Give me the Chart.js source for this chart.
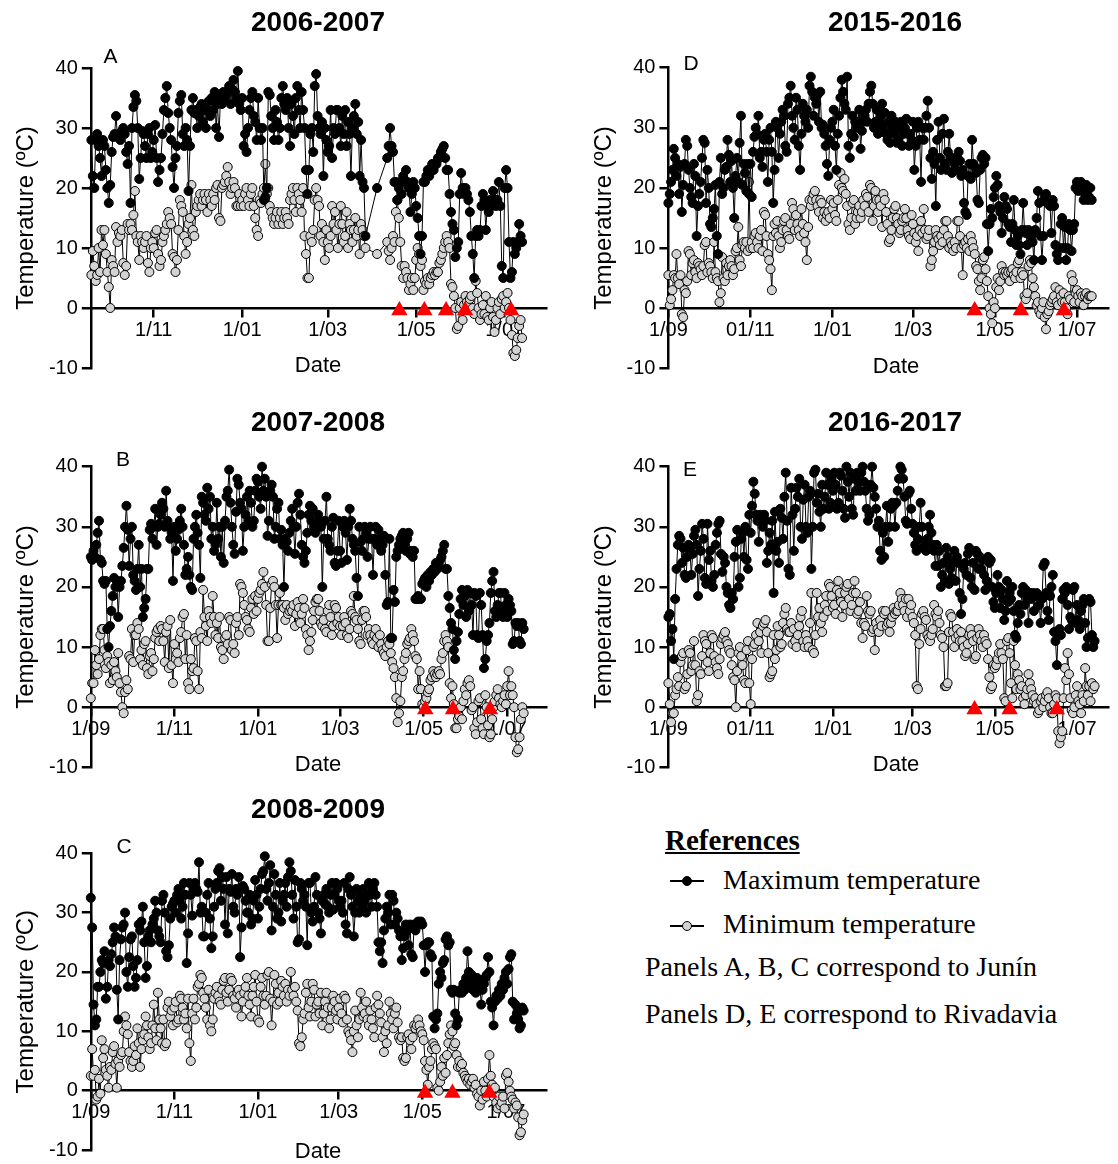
<!DOCTYPE html>
<html>
<head>
<meta charset="utf-8">
<script src="https://cdn.jsdelivr.net/npm/chart.js@4.4.1/dist/chart.umd.min.js"></script>
<style>
  body { margin: 0; background: #fff; width: 1118px; height: 1164px; position: relative; overflow: hidden; }
  canvas { position: absolute; }
  .leg { position: absolute; font-family: 'Liberation Serif', 'Times New Roman', serif; font-size: 28px; line-height: 28px; color: #000; white-space: nowrap; }
  .sym { position: absolute; width: 34px; height: 1.5px; background: #000; }
  .sym i { position: absolute; left: 12px; top: -4px; width: 8px; height: 8px; border-radius: 50%; border: 1px solid #000; }
</style>
</head>
<body>
<canvas id="cA" width="560" height="395" style="left:0;top:0"></canvas>
<canvas id="cB" width="560" height="390" style="left:0;top:395px"></canvas>
<canvas id="cC" width="560" height="379" style="left:0;top:785px"></canvas>
<canvas id="cD" width="558" height="395" style="left:560px;top:0"></canvas>
<canvas id="cE" width="558" height="390" style="left:560px;top:395px"></canvas>

<div class="leg" style="left:665px;top:826px;font-weight:bold;font-size:29px;text-decoration:underline">References</div>
<div class="sym" style="left:670px;top:880px"><i style="background:#000"></i></div>
<div class="leg" style="left:723px;top:866px">Maximum temperature</div>
<div class="sym" style="left:670px;top:925px"><i style="background:#d3d3d3"></i></div>
<div class="leg" style="left:723px;top:910px">Minimum temperature</div>
<div class="leg" style="left:645px;top:953px">Panels A, B, C correspond to Junín</div>
<div class="leg" style="left:645px;top:1000px">Panels D, E correspond to Rivadavia</div>

<script>
// day 0 = 1 September of the first year of each season
const yTicks = [-10, 0, 10, 20, 30, 40];

// ---- A: 2006-2007 (Junín) ----
const startA = 18;
const maxA = [
  28, 22, 20, 28, 29, 27, 25, 22, 28, 27,
  23, 20, 17.5, 20.5, 26, 28.5, 29, 32, 28.5, 29,
  28, 29.5, 30, 29, 26, 24, 27, 17.5, 30, 33.5,
  35.5, 34.5, 30, 21.5, 25, 29.5, 29, 27, 25, 29,
  30, 25, 26, 28, 30.5, 25, 21, 23, 25, 29,
  33, 35, 37, 32.5, 30, 28, 23.5, 20, 25, 27,
  32.5, 34.5, 35.5, 29, 27, 30, 28, 19.5, 27, 33,
  35, 32.5, 33, 30, 32, 33.5, 34, 31, 33, 30,
  33, 34.5, 32, 35, 33, 36, 30, 34, 28.5, 35,
  34, 36, 35, 35.5, 36, 37, 34, 36.5, 38, 36,
  35, 39.5, 34, 33, 35, 27, 29, 26, 30, 33,
  35, 36, 32, 31, 28, 35, 30, 28, 30, 18,
  18.5, 20, 36, 35.5, 32, 30, 28, 33, 31, 28,
  30, 35, 37, 34, 33, 35, 30, 27, 34, 32,
  29, 35, 37, 33, 30, 36, 33, 30, 23, 19,
  23, 29, 30, 26, 37, 39, 32, 30, 29, 31,
  22, 30, 28, 26, 27, 33, 25, 30, 29, 33,
  33, 30, 27, 32, 29, 33, 27, 31, 29, 22,
  30, 32, 34, 29, 31, 22, 28, 21, 20, 12,
  null, null, null, null, null, null, null, 20, null, null,
  null, null, null, null, 25, 27, 30, 27, 26, 21,
  21, 18, 20, 21, 19, 22, 21, 23, 21, 20,
  16, 19, 21, 20, 17, 15, 12, 9, 12, 21,
  21, 22, 23, 22, 23, 24, 23, 24, 24, 25,
  25, 26, 26.5, 27, 25, 23, 23, 19, 16, 14,
  13, 8.5, 10, 11, 19, 22.5, 20, 19, 20, 19,
  18, 16, 12, 9, 5, 12, 13, 12, 13, 17,
  19, 18, 13, 17, 16, 18, 17, 19.5, 18, 17,
  18, 21, 17, 7, 5, 20, 23, 20, 11, 5,
  6, 11, 9, 10, 11, 14, 12, 11
];
const minA = [
  5.5, 9.5, 7, 4.5, 5.5, 10, 6, 13, 10.5, 13,
  9, 6, 3.5, 0, 8, 7, 6, 13.5, 11, 12.5,
  12, 13, 7.5, 5.5, 7, 14, 13, 14, 13, 15.5,
  19.5, 12, 11, 8, 12, 11, 10, 11, 12, 7.5,
  6, 10, 11, 10, 12.5, 13, 9, 7, 8, 11,
  12, 13, 14, 16, 15, 14, 9, 8.5, 6, 8,
  13, 18, 17, 16, 12, 9, 11, 14, 15, 20.5,
  13, 12, 16, 17, 18, 19, 17, 18, 19, 18,
  16, 19, 18, 17, 19, 18, 20, 20.5, 15, 14.5,
  20, 20.5, 21, 22, 23.5, 21, 19, 20, 21, 20,
  17, 17, 19, 17, 18, 17, 19, 20, 18, 17,
  19, 20, 17, 15, 13, 12, 18, 17.5, 19, 20,
  24, 19, 20, 17, 16, 15, 14, 15, 16, 14,
  15, 16, 14, 15, 16, 15, 14, 18, 19, 20,
  18, 16, 20, 19, 18, 16, 20, 12, 9, 5,
  5, 12, 11, 13, 18, 20, 18, 17, 12, 14,
  11, 8, 13, 11, 10, 12, 17, 14, 16, 13,
  10, 14, 17, 14, 11, 12, 16, 10, 14, 13,
  11, 13, 15, 12, 13, 9, 14, 13, 12, 10,
  null, null, null, null, null, null, null, 9, null, null,
  null, null, null, null, 11, 9.5, 8, 10, 12, 11,
  16, 18, 15, 11, 7, 5, 7, 6, 5, 3,
  4, 5, 3, 5, 8, 10, 9, 7, 8, 3,
  4.5, 4, 5, 4, 5, 5.5, 6, 5.5, 6, 6,
  7.5, 8, 9, 10, 11, 12, 11, 10, 4, 3.5,
  2, 0, -3.5, -3, 0, 1, -2, 0.5, 2, 1,
  0.5, 1.5, 2, 0, -1, 4.5, 2.5, 0, -2, -1,
  0.5, -1, 2, -1.5, -2, 0, 1, -1.5, -4, -2,
  0, 1, -1, 1.5, 2, 0, 1, 2.5, 0, -2,
  -4.5, -7.5, -8, -7, -5, -3, -2, -5
];
const frostA = [230.4, 247.6, 262.6, 275.7, 307.4];
const tickDaysA = [61, 122, 181, 242, 303];
const tickLabelsA = ["1/11", "1/01", "1/03", "1/05", "1/07"];

// ---- B: 2007-2008 (Junín) ----
const startB = 0;
const maxB = [
  25, 24.5, 26, 25, 27, 29, 31, 24.5, 24, 21,
  20.5, 21, 13, 10, 13.5, 16, 18.5, 21.5, 20, 21,
  15, 20, 21, 23.5, 26.5, 30, 33.5, 29.5, 23.5, 28,
  30, 22, 21, 19.5, 23, 27, 20, 23, 15, 16.5,
  18, 23, 23, 29.5, 30.5, 28, 30, 33, 27, 30,
  30.5, 32, 34, 33, 30, 36, 31, 30, 28, 29,
  21, 30, 26, 28, 29.5, 31, 33, 30, 27, 22,
  23, 25, 22, 20, 19.5, 28, 30, 32, 29, 27,
  21.5, 35, 34, 32, 31, 36.5, 33, 35, 28, 30,
  26, 27, 34, 28, 30, 25, 30, 24, 31, 35,
  36, 39.5, 34, 30, 27, 25.5, 32.5, 38, 37, 34,
  33, 26, 30, 32, 35, 31, 36, 34, 30, 31,
  36, 38, 37.5, 35, 33, 40, 36, 38, 35, 28.5,
  31, 36, 37, 35, 28, 30, 33, 34, 28, 29.5,
  27, 20, 28, 27.5, 26, 29, 31, 33, 30, 25.5,
  30, 34, 35.5, 32, 27, 25, 24, 26, 29, 32,
  33.5, 31, 33, 30, 29, 30, 32, 31, 30, 20,
  28, 31, 35, 28, 27, 26, 30, 31.5, 24, 23.5,
  26, 31, 26, 24, 30, 31, 29, 24.5, 30, 33,
  31, 28, 27, 26, 21.5, 18.5, 30, 27.5, 26, 28,
  30, 29, 25, 28, 30, 28, 22, 28, 30, 27,
  29.5, 28, 26, 27, 28.5, 22, 17, 17.5, 28, 11.5,
  11.5, 19.5, 17.5, 25, 26, 27, 28, 28.5, 29, 27,
  26, 28, 29, 25.5, 26, 25, 26, 18, 18, 18.5,
  18, 18, 20.5, 21, 21.5, 20, 22, 21, 22.5, 22,
  23, 22.5, 24, 23, 24, 24.5, 25, 26, 27, 23,
  23, 18.5, 16.5, 14, 13, 9.5, 8, 11, 12.5, 15.5,
  18, 19.5, 17, 18.5, 15, 19.5, 16, 19, 17, 12,
  19, 18.5, 12, 11.5, 19, 17, 12, 6.5, 8, 11,
  12, 14, 19, 21, 22.5, 16, 15, 17, 19, 19,
  16, 15, 19, 17, 15, 18, 17, 16, 10.5, 11,
  14, 13.5, 14, 11, 10.5, 14, 13
];
const minB = [
  1.5, 4, 4, 9.5, 7, 5.5, 8, 12, 13, 13,
  9.5, 6.5, 8.5, 7.5, 4, 7, 4.5, 7.5, 6, 5,
  9, 4, 2.5, 0, -1, 2.5, 4.5, 3, 8.5, 8,
  13, 7.5, 12, 12, 14, 13, 8, 9.5, 7, 10.5,
  11, 6.5, 5.5, 8.5, 9, 6, 8, 11.5, 12.5, 13,
  11, 13.5, 13, 11, 7.5, 12.5, 13.5, 6.5, 14.5, 7,
  4, 10.5, 8, 9, 7.5, 11.5, 12.5, 15, 15.5, 8,
  12, 4, 3, 8, 6, 6.5, 11.5, 11, 6, 3,
  12.5, 11.5, 19.5, 15, 13.5, 11, 16, 15, 14, 18.5,
  15, 12, 14, 11.5, 15, 10, 9.5, 8, 11.5, 12,
  10.5, 15, 14.5, 9.5, 10.5, 9, 14, 15, 12, 20.5,
  20, 19, 17, 15, 14.5, 13, 12.5, 16.5, 18, 15.5,
  18.5, 16, 18, 19, 19.5, 20.5, 22.5, 20, 17, 11,
  11, 16.5, 20.5, 21, 20, 17, 11.5, 17, 19, 17,
  17, 16.5, 14.5, 17, 15.5, 16, 16.5, 16, 17, 13.5,
  15.5, 17.5, 16.5, 14, 15.5, 18, 16.5, 13, 12, 9.5,
  11, 12.5, 14.5, 16, 17.5, 18, 18, 16, 14, 13.5,
  14.5, 13, 12.5, 16, 17, 15, 12, 13.5, 17, 16.5,
  14, 15, 13.5, 12, 13.5, 15, 14, 12, 11.5, 13,
  16, 15.5, 18.5, 15, 14.5, 13, 11, 10.5, 14.5, 16,
  16, 15, 12, 13, 12, 11, 10.5, 12, 13, 11.5,
  10, 12, 10.5, 9.5, 9, 8.5, 10, 11, 10.5, 9,
  7.5, 6.5, 5, 1.5, -2.5, -1, 1, 5, 6, 8,
  9, 10.5, 11, 11.5, 13, 12, 11, 8.5, 8, 3,
  6, 3, 0.5, 0, 1, 1.5, 2.5, 3, 4.5, 5,
  6, 5.5, 5, 5.5, 6, 5.5, 8, 9, 11, 12,
  11, 10, 4, 1.5, 3.5, 0.5, -3.5, -3.5, -2, -1.5,
  0, -2, 1, 3, 2, 4, 4.5, 3.5, -0.5, 0,
  -3.5, -4.5, -2.5, 1, 1.5, -2, -3.5, -4.5, 2, 0,
  -3, -5, -4.5, -2, 0, 1, 2, 3, 1.5, 0.5,
  0, 1, 2, 0.5, 3.5, 6, 2, 3.5, 2, 0,
  -5, -7.5, -7, -5, -2, 0, -1
];
const frostB = [244.2, 264.4, 291.4];
const tickDaysB = [0, 61, 122, 182, 243, 304];
const tickLabelsB = ["1/09", "1/11", "1/01", "1/03", "1/05", "1/07"];

// ---- C: 2008-2009 (Junín) ----
const startC = 0;
const maxC = [
  32.5, 27.5, 14.5, 11, 12, 17.5, 17.5, 20, 22, 21.5,
  23.5, 15.5, 17.5, 22, 21, 23, 25, 27.5, 26, 17,
  12, 22, 25.5, 27.5, 28, 30, 20, 17.5, 22.5, 25.5,
  26, 21, 17.5, 19, 22, 28, 27, 28.5, 31, 25,
  19, 21, 26, 27, 25, 28, 29, 32, 30, 27,
  26, 25, 32, 33, 30, 23.5, 22.5, 24.5, 29, 31,
  31.5, 32, 30, 33, 34, 32, 29, 31, 35, 33,
  21.5, 26.5, 35, 33, 29.5, 34, 35, 34, 33.5, 38.5,
  30, 31, 26, 26, 30, 33, 35, 29, 24, 26,
  31, 34, 35, 37, 37.5, 32, 36, 34, 28, 36,
  26.5, 34, 33.5, 36.5, 31, 30, 34, 33, 36, 22.5,
  27.5, 34.5, 34, 32, 30, 30, 33, 28, 29, 32,
  35.5, 33, 29, 31, 34, 36.5, 37, 39.5, 34, 32,
  35, 38, 27, 31, 36.5, 33, 29, 30, 35, 28.5,
  32, 33, 35, 31, 36, 38.5, 37, 33, 29, 35.5,
  31, 25, 25.5, 35, 34, 32, 33, 31, 24.5, 35,
  35, 30, 28.5, 31, 36, 33, 30, 29, 26.5, 32,
  33, 31.5, 34, 31, 30, 33, 35, 30.5, 33, 35,
  34, 32, 31, 32, 30, 35, 28, 26.5, 34, 36,
  33, 31, 26, 30, 34, 32, 30, 33, 31, 34,
  32, 30, 33, 35, 33, 31, 34, 35, 33, 31,
  25, 23.5, 25, 21.5, 27, 29, 31, 30, 33, 28,
  33, 32, 28, 30, 29, 27, 26, 22, 24, 26,
  28, 27, 24.5, 28, 23, 22.5, 28, 27, 28, 28.5,
  28, 28.5, 28, 24.5, 20, 24.5, 25, 25, 23, 22.5,
  12.5, 10.5, 12, 13, 18, 20, 19, 21.5, 22, 25.5,
  26, 24.5, 25, 17, 16.5, 17, 13, 11, 12, 16.5,
  17, 16.5, 18, 17, 19, 23.5, 20, 18, 19.5, 17,
  18, 16.5, 19, 17.5, 18, 14.5, 17, 18, 19, 19.5,
  22.5, 20, 15, 14, 11, 15, 16, 15.5, 17, 16,
  18, 17, 19, 20, 18, 20.5, 22.5, 23, 15, 12,
  14.5, 13, 12, 10.5, 11, 14, 13.5
];
const minC = [
  2.5, 7, 2.5, 3.5, -1.5, -1, 2, -0.5, 8.5, 5.5,
  7, 3.5, 2.5, 0.5, 4, 3.5, 6.5, 7.5, 4.5, 0.5,
  5, 4, 6, 6.5, 10, 12.5, 11, 9.5, 6.5, 5,
  4, 5, 7.5, 6, 10.5, 8, 4, 7, 8.5, 9.5,
  12.5, 11, 9, 7, 8, 11, 14.5, 10.5, 8.5, 16.5,
  12, 10.5, 8, 12, 7.5, 8, 14, 15, 12.5, 13.5,
  11, 14, 15, 11.5, 12, 16, 15.5, 14, 12, 13,
  10.5, 15.5, 8, 5, 13, 15.5, 12, 14, 17.5, 18,
  19.5, 19, 16.5, 15.5, 14, 12, 17, 11, 10, 12,
  15.5, 16.5, 17.5, 16, 15, 14.5, 17, 18.5, 19, 16.5,
  15, 17, 19, 18.5, 16, 15.5, 14, 16.5, 17, 16,
  12.5, 15, 16.5, 17.5, 19, 16, 14.5, 12.5, 16, 17.5,
  19.5, 15, 12, 11.5, 17.5, 19, 16, 14.5, 16, 19.5,
  20, 15.5, 11, 15, 19.5, 18, 14.5, 16.5, 15, 18.5,
  17.5, 16, 18, 15, 17, 16, 20, 17, 16, 17.5,
  15, 13.5, 8, 7.5, 9, 12, 13, 16.5, 18, 14,
  12.5, 15, 18, 17, 12.5, 14.5, 15, 13, 16.5, 11,
  13, 15, 16.5, 14, 10.5, 12, 14, 16, 15, 13.5,
  12, 14, 15.5, 13, 11.5, 16, 15.5, 12, 10, 9.5,
  8.5, 6.5, 10, 13.5, 11, 9, 12, 16.5, 14, 12.5,
  13, 15, 12, 11, 13.5, 12, 10.5, 9, 14, 16,
  14.5, 13, 11.5, 9, 6.5, 10, 8, 11, 15, 13,
  12, 10.5, 13, 14, 11.5, 9, 8.5, 9, 5.5, 5,
  5.5, 9, 9.5, 8.5, 7, 9, 11, 10.5, 11, 12,
  11, 10, 9.5, 8.5, 5, 3.5, 1, 4, 5, 7,
  8, 7.5, 7, 0.5, 0, 1.5, 4, 2.5, 5.5, 3,
  6, 8, 9.5, 11, 10, 7.5, 8, 6, 4, 5,
  4, 4.5, 3, 2.5, 2, 1.5, 2, 1, 1.5, 2,
  0.5, 1, -0.5, -1, -2.5, 0, -1.5, 1.5, 0, -1,
  2, 6, 2.5, 1, -1, 0.5, -2, -3, -1, -2.5,
  -2, -1, -3, 2.5, 3, 1.5, 0, -1, -1.5, -3,
  -2, -2.5, -4.5, -7.5, -7, -5, -4
];
const frostC = [244, 264, 291];
const tickDaysC = [0, 61, 122, 181, 242, 303];
const tickLabelsC = ["1/09", "1/11", "1/01", "1/03", "1/05", "1/07"];

// ---- D: 2015-2016 (Rivadavia) ----
const startD = 0;
const maxD = [
  17.5, 19, 21, 23, 26.5, 25, 22, 24, 19, 23.5,
  16, 20.5, 24, 28, 27, 23, 20, 18.5, 17.5, 24,
  22, 12, 17, 19, 21, 25, 28, 27.5, 17.5, 23,
  20, 14, 13.5, 15, 16.5, 20.5, 12, 9, 21, 25,
  19, 20, 23, 23.5, 28, 25.5, 21, 24.5, 20, 15,
  22, 25, 21, 27.5, 32, 20.5, 24, 22.5, 19.5, 24,
  19, 24, 18.5, 26, 28.5, 30, 29, 32, 25, 26,
  23.5, 28, 29, 26, 21, 28, 30, 26, 17.5, 23,
  31, 30, 25, 29, 31, 33, 32, 27, 26, 34,
  35, 37, 32, 30, 28, 35, 33, 27, 23, 29,
  34, 32, 31, 33, 30, 37, 38.5, 36, 32, 35,
  34, 35.5, 31, 36, 30, 30.5, 29, 27, 24, 22,
  28, 30, 31, 33, 27, 23, 29, 32, 35, 38,
  36, 34, 33, 38.5, 27, 25, 29, 32, 28.5, 31,
  30, 31, 33, 26.5, 29.5, 31, 32, 33, 31, 34,
  36, 37, 34, 30, 31, 33, 29, 31, 32, 34,
  30, 32.5, 29, 28, 31, 27.5, 32, 30, 29, 31,
  27.5, 28, 30, 31, 27, 29, 30, 31.5, 29, 27,
  29, 28, 31, 23, 27, 30, 31, 28, 21, 30,
  28, 30, 32, 34.5, 30, 25, 21.5, 26, 24, 17,
  28, 31, 25, 23, 29, 31.5, 24, 23, 26, 29,
  25, 22.5, 25, 24, 23, 25, 26, 24.5, 22, 23,
  17.5, 16, 15.5, 22, 24, 21.5, 28, 24, 23.5, 22.5,
  18, 17.5, 23, 25, 25.5, 24, 25, 14, 9.5, 14,
  16.5, 15, 18.5, 20, 22, 20.5, 17, 16, 12.5, 15,
  18.5, 17, 16.5, 14, 13.5, 11, 14, 18, 13, 10.5,
  12, 10.5, 9, 13, 17.5, 13, 12.5, 10.5, 13, 12.5,
  12, 11, 8, 13, 15, 19.5, 17.5, 12, 8, 12,
  18.5, 19, 17.5, 18, 17, 12.5, 18, 17, 10.5, 9,
  8, 10, 14, 15, 10, 13.5, 8, 10, 14, 13,
  9.5, 13, 14, 20, 21, 19.5, 20, 21, 20, 18,
  19, 20.5, 18, 18.5, 20, 18
];
const minD = [
  5.5, 0.5, 1.5, 3, 5.5, 5, 9, 5, 4, 5.5,
  -1, -1.5, 3, 2.5, 4.5, 9.5, 9, 5.5, 7.5, 8,
  6, 5, 7.5, 7, 6.5, 5.5, 7, 10.5, 11, 6,
  7.5, 7, 6, 5, 11, 6, 5, 4.5, 1, 2.5,
  8.5, 5, 4.5, 7.5, 5.5, 7, 8, 7, 5.5, 6.5,
  9.5, 10, 13.5, 8, 7, 10.5, 11, 10, 11, 9.5,
  21, 10, 11, 10, 12, 12.5, 11, 10, 12, 13,
  9.5, 16, 15.5, 12, 9, 8, 6.5, 3, 12, 14,
  12.5, 14.5, 12, 10, 11, 13, 14.5, 15, 13, 12,
  11.5, 14, 17.5, 16.5, 13, 15.5, 14, 13, 12, 16.5,
  14, 12.5, 11, 8, 13.5, 18, 17, 18, 19, 19.5,
  18, 17, 16, 18, 17.5, 15, 16, 14.5, 15.5, 16,
  15, 18, 16.5, 17.5, 15.5, 14.5, 18, 20.5, 22.5, 20,
  19.5, 21.5, 19, 17, 14, 13, 15, 17.5, 18, 14,
  15, 16, 17, 15, 16, 18, 17, 19, 18.5, 16,
  20.5, 20, 14.5, 17, 19.5, 18, 16, 18, 17, 13.5,
  19, 18, 16, 14, 11, 11.5, 13, 15, 16.5, 17,
  15, 14, 12.5, 13, 14.5, 15, 16.5, 15, 13, 12,
  11.5, 15.5, 14, 12.5, 11, 12, 9.5, 13, 14.5, 12.5,
  16.5, 13, 11.5, 12, 13, 7, 8, 9.5, 11, 13,
  12, 11.5, 10.5, 12, 11, 13, 14.5, 14.5, 12, 10,
  11, 10.5, 9.5, 11, 10, 14.5, 14.5, 12, 10, 5.5,
  10.5, 11, 10, 11.5, 9.5, 12, 11, 10, 9, 7,
  6.5, 4.5, 3, 5, 8, 8.5, 6.5, 4.5, 2, 0,
  -1, -2.5, 1, 0, 3.5, 5, 3, 4.5, 7, 6,
  5.5, 6, 5.5, 6, 4.5, 6, 6.5, 5.5, 5, 6,
  7.5, 8, 5, 6, 5.5, 2, 1.5, 2.5, 7, 8,
  7.5, 5, 3.5, 2, 0.5, 1, -0.5, -1, 0, 1,
  -1.5, -3.5, -1, -0.5, 0.5, 1, 1.5, 2, 3.5, 1,
  0.5, 3, 2, 1, 2.5, 1, 0, -1, 2, 1.5,
  5.5, 4.5, 1, 2.5, 3, 2, 1, 2.5, 2, 0.5,
  2, 2.5, 1.5, 2, 2, 2
];
const frostD = [227.9, 262.3, 294.3];
const tickDaysD = [0, 61, 122, 182, 243, 304];
const tickLabelsD = ["1/09", "01/11", "1/01", "1/03", "1/05", "1/07"];

// ---- E: 2016-2017 (Rivadavia) ----
const startE = 0;
const maxE = [
  15, 15.5, 11, 13, 8, 18, 23, 27, 28.5, 28,
  24, 26.5, 22, 21.5, 25, 27, 26, 22, 25.5, 28.5,
  29.5, 27, 18.5, 23, 26, 30.5, 28, 21.5, 20.5, 30.5,
  24.5, 26, 21, 20, 22, 27, 29, 30.5, 31, 25.5,
  22.5, 25, 24, 20, 19, 17, 16.5, 19, 18, 25,
  27.5, 29.5, 20, 21.5, 28, 29, 25, 30, 24.5, 23,
  32, 29, 33.5, 37.5, 35.5, 32, 31, 27.5, 32, 31,
  30, 32, 31, 24, 26, 29, 27, 31, 19, 32.5,
  26, 27.5, 24, 33, 31.5, 28, 35, 39, 31, 23,
  22, 36.5, 32, 26, 33, 36.5, 35, 38, 30, 28,
  34.5, 37, 30, 29, 35, 36, 23, 30, 39, 39.5,
  34, 35.5, 32.5, 30, 37, 33, 35, 39, 37, 33,
  34, 38, 36, 39, 37, 33, 34, 39, 38.5, 36,
  33, 31.5, 40, 37.5, 35, 39, 33, 32, 38, 36,
  39, 37.5, 36, 39, 40, 37.5, 36, 33, 31, 32,
  37, 40, 36.5, 35, 33, 30, 31, 26, 24.5, 29,
  25, 30, 33.5, 27.5, 30, 33, 34, 33.5, 30, 34,
  36, 38, 40, 39.5, 38, 35, 31, 30.5, 35.5, 36,
  33, 30.5, 29, 27, 26, 28, 30, 34, 30, 26.5,
  27, 26, 28, 30, 32, 29, 27, 26, 23.5, 27,
  23.5, 26, 20, 22, 24, 21, 26.5, 25, 20.5, 23,
  21.5, 24, 26, 21, 25, 24, 19, 15.5, 18, 23,
  24, 22, 25.5, 26.5, 21.5, 20, 24, 19.5, 26, 25.5,
  23, 25, 23, 24.5, 22, 19.5, 21, 25, 24, 24.5,
  20, 17.5, 16.5, 19, 22, 20, 16.5, 19.5, 18, 14.5,
  16, 21, 17.5, 19, 18, 20, 16, 12, 11.5, 14,
  17, 15.5, 19, 20, 17, 19.5, 18, 14, 19, 18,
  19, 16, 18.5, 19, 18.5, 17, 14, 18, 23.5, 24,
  19, 16, 14.5, 18.5, 20, 22, 12.5, 11, 7, 12.5,
  13, 12, 18, 19.5, 19, 20, 17, 13, 15, 14.5,
  19.5, 20, 14, 17, 14.5, 13, 16, 17, 18, 14,
  10, 11.5, 18, 17.5, 12, 10, 11
];
const minE = [
  4, 0.5, -2.5, -1, -1, 2, 3, 5, 3.5, 7.5,
  8.5, 9, 3, 3.5, 5.5, 9.5, 9, 6, 7, 11,
  7, 1, 2, 6, 5.5, 8.5, 12, 11, 10.5, 7.5,
  6, 9, 12, 11.5, 8.5, 7.5, 6.5, 5.5, 8, 10.5,
  11.5, 12, 12.5, 11, 10.5, 9.5, 9, 7, 5, 4.5,
  0, 6, 9, 10, 8.5, 7, 4.5, 4, 9.5, 11,
  4, 0.5, 8, 10, 10.5, 12, 14, 11, 12.5, 9,
  13.5, 14, 14.5, 12.5, 9, 5, 5.5, 6, 12, 8,
  9.5, 13.5, 12, 10, 10.5, 14, 15.5, 16.5, 13, 12.5,
  12.5, 14, 10.5, 13, 11, 10, 12, 13.5, 15, 16,
  11, 10, 12, 11, 10, 14, 19, 9.5, 9, 12,
  19, 15, 16.5, 14, 12.5, 15, 17, 18.5, 16, 20.5,
  20, 18.5, 16.5, 17, 15.5, 19.5, 21, 19, 17.5, 15,
  17, 19, 20, 20.5, 18, 16, 17, 19, 21, 19,
  15.5, 16, 17.5, 14, 11.5, 14, 13.5, 18.5, 16, 15.5,
  16, 12.5, 13, 9.5, 14, 13, 12.5, 14.5, 13.5, 16,
  15.5, 16, 13.5, 14, 12.5, 14, 15, 16.5, 15.5, 16,
  16, 17, 19, 18, 17, 16, 18, 15, 18, 16,
  17, 15, 14, 12, 3.5, 3, 10.5, 13, 15.5, 16,
  15, 14.5, 12, 11.5, 11, 12, 13, 17, 15.5, 15,
  16, 14, 12, 11.5, 10, 3.5, 3.5, 4, 12.5, 15.5,
  15, 12.5, 10, 11.5, 13, 12, 11, 12.5, 11, 10,
  8.5, 9, 10.5, 12, 13, 12, 11, 8, 8.5, 11.5,
  13, 12, 11, 10, 12, 11, 10.5, 8, 5, 3,
  3.5, 7, 6.5, 7, 8, 9, 10.5, 9, 8, 1.5,
  1, 11, 11.5, 9, 4, 1.5, 11, 7, 3, 5.5,
  4.5, 3, 3.5, 1.5, 0.5, 2, 3, 5.5, 4, 3,
  2, 1, 1.5, 0.5, -1, -0.5, 1, 1.5, 0, 1,
  2, 2.5, 1.5, 0, -1, -1, 0.5, 2, 1.5, -4,
  -6, -5, -4, 1.5, 6.5, 4.5, 9, 5.5, 1.5, -0.5,
  -1, 0, 2, 3.5, 1, 0.5, -1, 2, 1, 6.5,
  3.5, 2, 3.5, 1, 4, 3, 3.5
];
const frostE = [227, 253, 288];
const tickDaysE = [0, 61, 122, 181, 242, 303];
const tickLabelsE = ["1/09", "01/11", "1/01", "1/03", "1/05", "1/07"];

Chart.defaults.font.family = "'Liberation Sans', Arial, sans-serif";
Chart.defaults.color = "#000";

// panel placement (canvas-relative pixels)
const panels = [
  { id: "cA", title: "2006-2007", letter: "A", start: startA, max: maxA, min: minA, frost: frostA,
    tickDays: tickDaysA, tickLabels: tickLabelsA, xMin: 17.6, xMax: 331.5,
    w: 560, h: 395, area: { left: 90.8, top: 68, right: 546, bottom: 368 },
    titleXY: [318, 23], letterXY: [110.5, 57.5], dateXY: [318, 366], yTitleX: 26 },
  { id: "cB", title: "2007-2008", letter: "B", start: startB, max: maxB, min: minB, frost: frostB,
    tickDays: tickDaysB, tickLabels: tickLabelsB, xMin: 0, xMax: 332.3,
    w: 560, h: 390, area: { left: 90.8, top: 71.7, right: 546, bottom: 372.3 },
    titleXY: [318, 28], letterXY: [123, 65], dateXY: [318, 370], yTitleX: 26 },
  { id: "cC", title: "2008-2009", letter: "C", start: startC, max: maxC, min: minC, frost: frostC,
    tickDays: tickDaysC, tickLabels: tickLabelsC, xMin: 0, xMax: 332.3,
    w: 560, h: 379, area: { left: 90.8, top: 68.3, right: 546, bottom: 368.3 },
    titleXY: [318, 25], letterXY: [124, 62], dateXY: [318, 367], yTitleX: 26 },
  { id: "cD", title: "2015-2016", letter: "D", start: startD, max: maxD, min: minD, frost: frostD,
    tickDays: tickDaysD, tickLabels: tickLabelsD, xMin: 0, xMax: 327.5,
    w: 558, h: 395, area: { left: 108.4, top: 67.7, right: 558, bottom: 368.3 },
    titleXY: [335, 23], letterXY: [131, 64.5], dateXY: [336, 367], yTitleX: 44 },
  { id: "cE", title: "2016-2017", letter: "E", start: startE, max: maxE, min: minE, frost: frostE,
    tickDays: tickDaysE, tickLabels: tickLabelsE, xMin: 0, xMax: 326.3,
    w: 558, h: 390, area: { left: 108.4, top: 71.7, right: 558, bottom: 372.3 },
    titleXY: [335, 28], letterXY: [130, 75.5], dateXY: [336, 370], yTitleX: 44 }
];

function toPoints(start, vals) {
  return vals.map((v, i) => ({ x: start + i, y: v }));
}

// panel title, panel letter and "Date" label
const panelText = {
  id: "panelText",
  afterDraw(chart, args, o) {
    const ctx = chart.ctx;
    ctx.save();
    ctx.fillStyle = "#000";
    ctx.textAlign = "center";
    ctx.textBaseline = "middle";
    ctx.font = "bold 28px 'Liberation Sans', Arial, sans-serif";
    ctx.fillText(o.title, o.titleXY[0], o.titleXY[1]);
    ctx.font = "21px 'Liberation Sans', Arial, sans-serif";
    ctx.fillText(o.letter, o.letterXY[0], o.letterXY[1]);
    ctx.font = "22px 'Liberation Sans', Arial, sans-serif";
    ctx.fillText("Date", o.dateXY[0], o.dateXY[1]);
    ctx.restore();
  }
};

panels.forEach(p => {
  const a = p.area;
  new Chart(document.getElementById(p.id), {
    type: "line",
    data: {
      datasets: [
        {
          label: "Frost",
          data: p.frost.map(d => ({ x: d, y: -0.4 })),
          showLine: false,
          pointStyle: "triangle",
          pointRadius: 9.5,
          pointBackgroundColor: "#ff0000",
          pointBorderColor: "#ff0000",
          pointBorderWidth: 0,
          clip: false,
          order: 0
        },
        {
          label: "Maximum temperature",
          data: toPoints(p.start, p.max),
          borderColor: "#000",
          borderWidth: 1,
          pointRadius: 4.5,
          pointBackgroundColor: "#000",
          pointBorderColor: "#000",
          pointBorderWidth: 1,
          spanGaps: true,
          clip: false,
          order: 1
        },
        {
          label: "Minimum temperature",
          data: toPoints(p.start, p.min),
          borderColor: "#000",
          borderWidth: 1,
          pointRadius: 4.5,
          pointBackgroundColor: "#d3d3d3",
          pointBorderColor: "#000",
          pointBorderWidth: 1,
          spanGaps: true,
          clip: false,
          order: 2
        }
      ]
    },
    options: {
      responsive: false,
      animation: false,
      events: [],
      layout: { padding: { left: 0, top: a.top, right: p.w - a.right, bottom: p.h - a.bottom } },
      elements: { line: { tension: 0 }, point: { hoverRadius: 4.5 } },
      plugins: {
        legend: { display: false },
        tooltip: { enabled: false },
        panelText: { title: p.title, letter: p.letter, titleXY: p.titleXY, letterXY: p.letterXY, dateXY: p.dateXY }
      },
      scales: {
        x: {
          type: "linear",
          min: p.xMin,
          max: p.xMax,
          position: { y: 0 },
          afterBuildTicks: s => { s.ticks = p.tickDays.map(v => ({ value: v })); },
          ticks: {
            autoSkip: false,
            maxRotation: 0,
            padding: 4,
            font: { size: 20, lineHeight: 1 },
            callback: v => p.tickLabels[p.tickDays.indexOf(v)]
          },
          grid: { drawOnChartArea: false, drawTicks: true, tickLength: 8, color: "#000", lineWidth: 2.5 },
          border: { display: true, color: "#000", width: 2.5 }
        },
        y: {
          type: "linear",
          min: -10,
          max: 40,
          afterBuildTicks: s => { s.ticks = yTicks.map(v => ({ value: v })); },
          afterFit: s => { s.width = a.left; },
          ticks: { padding: 4, font: { size: 20, lineHeight: 1 } },
          grid: { drawOnChartArea: false, drawTicks: true, tickLength: 9, color: "#000", lineWidth: 2.5 },
          border: { display: true, color: "#000", width: 2.5 },
          title: {
            display: true,
            text: "Temperature (ºC)",
            font: { size: 24, lineHeight: 1 },
            padding: { top: p.yTitleX - 12, bottom: 0 }
          }
        }
      }
    },
    plugins: [panelText]
  });
});
</script>
</body>
</html>
